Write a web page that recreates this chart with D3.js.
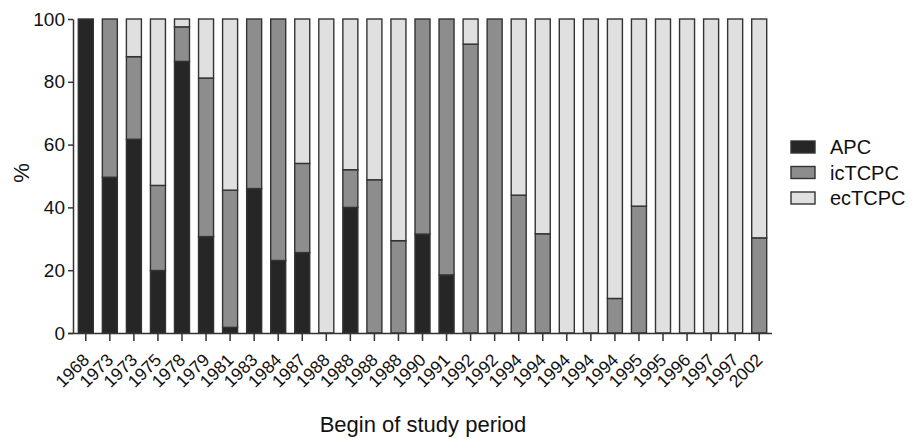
<!DOCTYPE html>
<html>
<head>
<meta charset="utf-8">
<script src="https://cdn.jsdelivr.net/npm/d3@7"></script>
<style>
  html, body { margin: 0; padding: 0; background: #fff; }
  svg { display: block; font-family: "Liberation Sans", Arial, Helvetica, sans-serif; }
</style>
</head>
<body>
<svg id="chart" width="914" height="439"></svg>
<script>
// ---- Data ----
const years = ["1968","1973","1973","1975","1978","1979","1981","1983","1984","1987",
               "1988","1988","1988","1988","1990","1991","1992","1992","1994","1994",
               "1994","1994","1994","1995","1995","1996","1997","1997","2002"];
const APC    = [100, 49.6, 61.7, 19.9, 86.5, 30.7, 1.8, 46.0, 23.1, 25.6,
                0, 40.0, 0, 0, 31.5, 18.5, 0, 0, 0, 0,
                0, 0, 0, 0, 0, 0, 0, 0, 0];
const icTCPC = [0, 50.4, 26.3, 27.1, 11.0, 50.5, 43.7, 54.0, 76.9, 28.4,
                0, 12.0, 48.8, 29.4, 68.5, 81.5, 92.0, 100, 43.9, 31.6,
                0, 0, 11.0, 40.4, 0, 0, 0, 0, 30.3];
const ecTCPC = years.map((_, i) => Math.max(0, 100 - APC[i] - icTCPC[i]));
const seriesNames = ["APC", "icTCPC", "ecTCPC"];
const yTicks = [0, 20, 40, 60, 80, 100];

// ---- Styles ----
const colors = { APC: "#262626", icTCPC: "#8d8d8d", ecTCPC: "#e0e0e0" };
const strokeCol = "#333";

const svg = d3.select("#chart");
const mLeft = 73, mRight = 772, mTop = 19, mBottom = 333;

const rows = years.map((y, i) => ({ i, year: y, APC: APC[i], icTCPC: icTCPC[i], ecTCPC: ecTCPC[i] }));
const stack = d3.stack().keys(seriesNames)(rows);

const x = d3.scaleBand()
  .domain(d3.range(years.length))
  .range([mLeft, mRight])
  .paddingInner(0.376)
  .paddingOuter(0.22);

const y = d3.scaleLinear().domain([0, 100]).range([mBottom, mTop]);

// bars
const g = svg.append("g");
stack.forEach(layer => {
  g.selectAll(null)
    .data(layer.filter(d => d[1] - d[0] > 0))
    .enter().append("rect")
    .attr("x", d => x(d.data.i))
    .attr("width", x.bandwidth())
    .attr("y", d => y(d[1]))
    .attr("height", d => y(d[0]) - y(d[1]))
    .attr("fill", colors[layer.key])
    .attr("stroke", strokeCol)
    .attr("stroke-width", 1.4);
});

// y axis
const yAxis = svg.append("g")
  .attr("transform", `translate(${mLeft},0)`)
  .call(d3.axisLeft(y).tickValues(yTicks).tickSize(5).tickSizeOuter(0).tickPadding(3));
yAxis.select(".domain").attr("stroke", "#333").attr("stroke-width", 1.5);
yAxis.selectAll(".tick line").attr("stroke", "#333").attr("stroke-width", 1.5);
yAxis.selectAll(".tick text")
  .attr("font-size", 19).attr("fill", "#111")
  .attr("font-family", "'Liberation Sans', Arial, sans-serif");

// x axis
const xAxis = svg.append("g")
  .attr("transform", `translate(0,${mBottom})`)
  .call(d3.axisBottom(x).tickSize(8).tickSizeOuter(0).tickFormat(i => years[i]));
xAxis.select(".domain").attr("stroke", "#333").attr("stroke-width", 1.5)
  .attr("d", `M${mLeft - 5},0.5H${mRight}`);
xAxis.selectAll(".tick line").attr("stroke", "#333").attr("stroke-width", 1.5);
xAxis.selectAll(".tick text")
  .attr("font-size", 17.5).attr("fill", "#111")
  .attr("font-family", "'Liberation Sans', Arial, sans-serif")
  .attr("text-anchor", "end")
  .attr("x", 0).attr("y", 0).attr("dy", 0)
  .attr("transform", "translate(4.5,28) rotate(-45)");

// axis titles
svg.append("text")
  .attr("x", 423).attr("y", 432)
  .attr("text-anchor", "middle")
  .attr("font-size", 22).attr("fill", "#111")
  .text("Begin of study period");

svg.append("text")
  .attr("transform", `translate(29,173) rotate(-90)`)
  .attr("text-anchor", "middle")
  .attr("font-size", 22).attr("fill", "#111")
  .text("%");

// legend
const legend = svg.append("g").attr("transform", "translate(791,141)");
seriesNames.forEach((name, k) => {
  const row = legend.append("g").attr("transform", `translate(0,${k * 25.5})`);
  row.append("rect")
    .attr("x", 0).attr("y", 0).attr("width", 24).attr("height", 12)
    .attr("fill", colors[name]).attr("stroke", strokeCol).attr("stroke-width", 1.4);
  row.append("text")
    .attr("x", 39).attr("y", 6).attr("dy", "0.36em")
    .attr("font-size", 20).attr("fill", "#111")
    .text(name);
});
</script>
</body>
</html>
